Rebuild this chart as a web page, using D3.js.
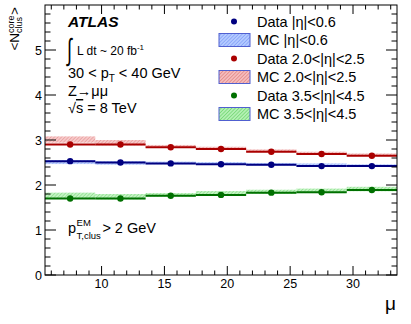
<!DOCTYPE html>
<html>
<head>
<meta charset="UTF-8">
<script src="https://d3js.org/d3.v7.min.js"></script>
<style>
  body { margin: 0; background: #fff; }
  text { font-family: "Liberation Sans", Arial, sans-serif; fill: #000; }
</style>
</head>
<body>
<div id="chart"></div>
<script>
// mu bins (centre, half width 2)
var muBins = [7.5, 11.5, 15.5, 19.5, 23.5, 27.5, 31.5];
var binHalf = 2;

// |eta| < 0.6
var dataCentral = [2.53, 2.50, 2.48, 2.46, 2.45, 2.42, 2.42];
var mcCentral = [2.51, 2.49, 2.49, 2.48, 2.46, 2.45, 2.43];
var mcCentralErr = [0.045, 0.04, 0.03, 0.03, 0.03, 0.03, 0.03];

// 2.0 < |eta| < 2.5
var dataEndcap = [2.90, 2.90, 2.84, 2.80, 2.74, 2.69, 2.65];
var mcEndcap = [3.01, 2.94, 2.86, 2.82, 2.76, 2.71, 2.67];
var mcEndcapErr = [0.07, 0.06, 0.03, 0.03, 0.03, 0.03, 0.03];

// 3.5 < |eta| < 4.5
var dataForward = [1.70, 1.70, 1.76, 1.78, 1.83, 1.84, 1.89];
var mcForward = [1.76, 1.74, 1.78, 1.82, 1.85, 1.87, 1.91];
var mcForwardErr = [0.07, 0.06, 0.04, 0.045, 0.045, 0.05, 0.05];

var xTicks = [10, 15, 20, 25, 30];
var yTicks = [0, 1, 2, 3, 4, 5];

var series = [
  {data: dataCentral, mc: mcCentral, err: mcCentralErr, dcol: "#000080", hatch: "hBlue",
   dlab: "Data |η|<0.6", mlab: "MC |η|<0.6"},
  {data: dataEndcap, mc: mcEndcap, err: mcEndcapErr, dcol: "#aa0000", hatch: "hRed",
   dlab: "Data 2.0<|η|<2.5", mlab: "MC 2.0<|η|<2.5"},
  {data: dataForward, mc: mcForward, err: mcForwardErr, dcol: "#007000", hatch: "hGreen",
   dlab: "Data 3.5<|η|<4.5", mlab: "MC 3.5<|η|<4.5"}
];

var W = 411, H = 324;
var frame = {left: 45, right: 397, top: 5, bottom: 275};

var svg = d3.select("#chart").append("svg")
  .attr("width", W).attr("height", H);

// hatch patterns for MC bands
var defs = svg.append("defs");
function hatch(id, bg, fg) {
  var p = defs.append("pattern").attr("id", id)
    .attr("patternUnits", "userSpaceOnUse")
    .attr("width", 2.5).attr("height", 2.5)
    .attr("patternTransform", "rotate(45)");
  p.append("rect").attr("width", 2.5).attr("height", 2.5).attr("fill", bg);
  p.append("line").attr("x1", 0).attr("y1", 0).attr("x2", 0).attr("y2", 2.5)
    .attr("stroke", fg).attr("stroke-width", 1);
}
hatch("hBlue", "#b4caff", "#6a8cf4");
hatch("hRed", "#f4bcbc", "#dc6a6a");
hatch("hGreen", "#b4f0b4", "#52cc52");

var x = d3.scaleLinear().domain([5.5, 33.5]).range([frame.left, frame.right]);
var y = d3.scaleLinear().domain([0, 6]).range([frame.bottom, frame.top]);

// MC bands
series.forEach(function(s) {
  svg.append("g").selectAll("rect").data(muBins).join("rect")
    .attr("x", function(d) { return x(d - binHalf); })
    .attr("width", function(d) { return x(d + binHalf) - x(d - binHalf); })
    .attr("y", function(d, i) { return y(s.mc[i] + s.err[i]); })
    .attr("height", function(d, i) { return y(s.mc[i] - s.err[i]) - y(s.mc[i] + s.err[i]); })
    .attr("fill", "url(#" + s.hatch + ")")
    .attr("opacity", 0.8);
});

// data: horizontal bars + markers
series.forEach(function(s) {
  var g = svg.append("g");
  g.selectAll("line").data(muBins).join("line")
    .attr("x1", function(d) { return x(d - binHalf); })
    .attr("x2", function(d) { return x(d + binHalf); })
    .attr("y1", function(d, i) { return y(s.data[i]); })
    .attr("y2", function(d, i) { return y(s.data[i]); })
    .attr("stroke", s.dcol).attr("stroke-width", 2);
  g.selectAll("circle").data(muBins).join("circle")
    .attr("cx", function(d) { return x(d); })
    .attr("cy", function(d, i) { return y(s.data[i]); })
    .attr("r", 3.2).attr("fill", s.dcol);
});

// axes (ROOT style ticks inside, mirrored)
var ax = svg.append("g").attr("stroke", "#000").attr("stroke-width", 1);
d3.range(6, 34).forEach(function(v) {
  var len = (v % 5 == 0) ? 9 : 4.5;
  ax.append("line").attr("x1", x(v)).attr("x2", x(v)).attr("y1", frame.bottom).attr("y2", frame.bottom - len);
  ax.append("line").attr("x1", x(v)).attr("x2", x(v)).attr("y1", frame.top).attr("y2", frame.top + len);
});
d3.range(0, 30).forEach(function(k) {
  var v = k * 0.2;
  var len = (k % 5 == 0) ? 11 : 5.5;
  ax.append("line").attr("x1", frame.left).attr("x2", frame.left + len).attr("y1", y(v)).attr("y2", y(v));
  ax.append("line").attr("x1", frame.right).attr("x2", frame.right - len).attr("y1", y(v)).attr("y2", y(v));
});
ax.append("rect").attr("x", frame.left).attr("y", frame.top)
  .attr("width", frame.right - frame.left).attr("height", frame.bottom - frame.top)
  .attr("fill", "none");

svg.append("g").selectAll("text").data(xTicks).join("text")
  .attr("x", function(d) { return x(d); }).attr("y", 288)
  .attr("text-anchor", "middle").attr("font-size", 12.5)
  .text(function(d) { return d; });
svg.append("g").selectAll("text").data(yTicks).join("text")
  .attr("x", 42).attr("y", function(d) { return y(d) + 4.5; })
  .attr("text-anchor", "end").attr("font-size", 12.5)
  .text(function(d) { return d; });

// x title
svg.append("text").attr("x", 396).attr("y", 310).attr("text-anchor", "end")
  .attr("font-size", 19).text("μ");

// y title <N^core_clus>, rotated
var yt = svg.append("g").attr("transform", "translate(19,60) rotate(-90)");
var t1 = yt.append("text").attr("x", 0).attr("y", 0).attr("font-size", 13.5).text("<N");
var w1 = t1.node().getComputedTextLength();
var t2 = yt.append("text").attr("x", w1).attr("y", -5.5).attr("font-size", 9).text("core");
var t3 = yt.append("text").attr("x", w1).attr("y", 3).attr("font-size", 9).text("clus");
var w2 = Math.max(t2.node().getComputedTextLength(), t3.node().getComputedTextLength());
var t4 = yt.append("text").attr("x", w1 + w2 + 0.5).attr("y", 0).attr("font-size", 13.5).text(">");
var wTot = w1 + w2 + 0.5 + t4.node().getComputedTextLength();
yt.attr("transform", "translate(19," + (7 + wTot) + ") rotate(-90)");

// labels
svg.append("text").attr("x", 68).attr("y", 27).attr("font-size", 15.5)
  .attr("font-weight", "bold").attr("font-style", "italic").text("ATLAS");
svg.append("text").attr("transform", "translate(67,60) scale(0.85,1.45)")
  .attr("font-size", 21).text("∫");
var lum = svg.append("text").attr("x", 77).attr("y", 55).attr("font-size", 12);
lum.append("tspan").text("L dt ~ 20 fb");
lum.append("tspan").attr("dy", -5.5).attr("font-size", 8).text("-1");

var pt = svg.append("text").attr("x", 68).attr("y", 78).attr("font-size", 14.5);
pt.append("tspan").text("30 < p");
pt.append("tspan").attr("dy", 4).attr("font-size", 10).text("T");
pt.append("tspan").attr("dy", -4).text(" < 40 GeV");

svg.append("text").attr("x", 68).attr("y", 96).attr("font-size", 14.5).text("Z→μμ");
var sq = svg.append("text").attr("x", 68).attr("y", 113).attr("font-size", 14.5);
sq.append("tspan").text("√");
sq.append("tspan").attr("text-decoration", "overline").text("s");
sq.append("tspan").text(" = 8 TeV");

// p_T,clus^EM > 2 GeV
var pe = svg.append("g");
var p1 = pe.append("text").attr("x", 68).attr("y", 233).attr("font-size", 14.5).text("p");
var pw = p1.node().getComputedTextLength();
pe.append("text").attr("x", 68 + pw + 0.5).attr("y", 226).attr("font-size", 9.5).text("EM");
var ps = pe.append("text").attr("x", 68 + pw + 0.5).attr("y", 238.5).attr("font-size", 9.5).text("T,clus");
var psw = ps.node().getComputedTextLength();
pe.append("text").attr("x", 68 + pw + psw + 2).attr("y", 233).attr("font-size", 14.5).text("> 2 GeV");

// legend
var lg = svg.append("g");
var rowY = [21.5, 40, 58.5, 77, 95.5, 114];
series.forEach(function(s, i) {
  var yd = rowY[2 * i], ym = rowY[2 * i + 1];
  lg.append("circle").attr("cx", 234).attr("cy", yd).attr("r", 3).attr("fill", s.dcol);
  lg.append("text").attr("x", 257).attr("y", yd + 5).attr("font-size", 14.5).text(s.dlab);
  lg.append("rect").attr("x", 219).attr("y", ym - 6.5).attr("width", 31).attr("height", 13)
    .attr("fill", "url(#" + s.hatch + ")").attr("stroke", "#5060d0").attr("stroke-width", 1);
  lg.append("text").attr("x", 257).attr("y", ym + 5).attr("font-size", 14.5).text(s.mlab);
});
</script>
</body>
</html>
